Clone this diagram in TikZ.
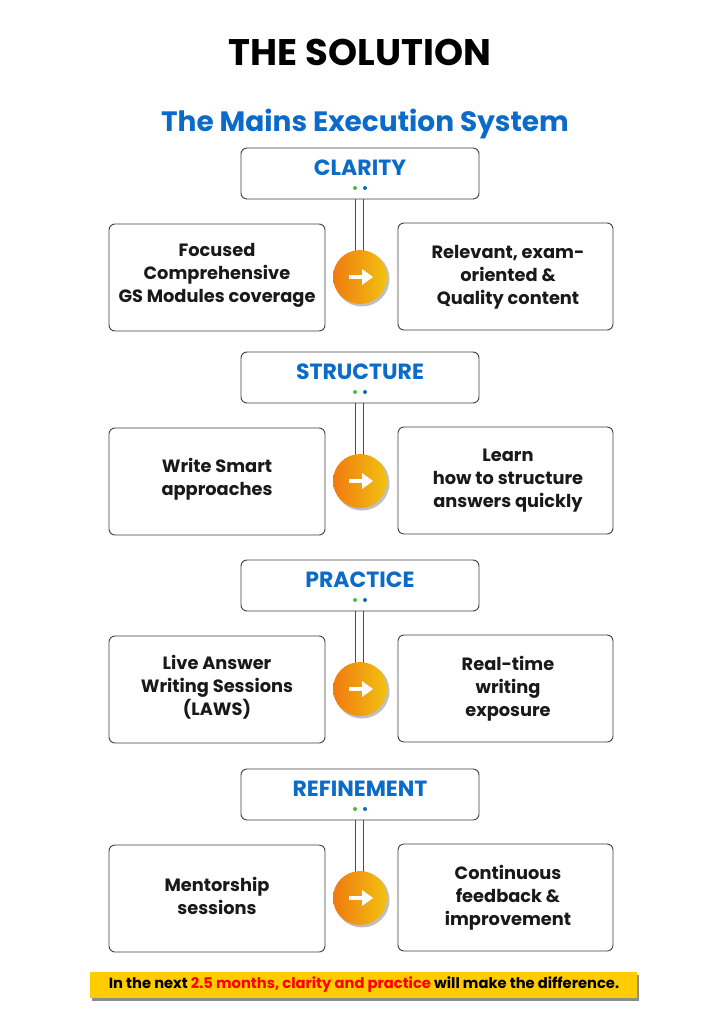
\documentclass[tikz,border=0pt]{standalone}
\usepackage{fontspec}
\setmainfont{Poppins}
\begin{document}
\begin{tikzpicture}[x=1pt,y=-1pt,
 box/.style={draw=black!75,line width=0.9pt,rounded corners=6pt,fill=white},
 btxt/.style={font=\fontsize{17.8}{23}\selectfont\bfseries,align=center,text=black!90},
 htxt/.style={font=\fontsize{22}{24}\selectfont\bfseries,text=blueC},
]
\definecolor{blueC}{HTML}{0B6BC8}
\definecolor{orA}{HTML}{F07A10}
\definecolor{orB}{HTML}{F2C210}
\definecolor{barY}{HTML}{FFCC00}
\useasboundingbox[fill=white] (0,0) rectangle (723,1024);
\node[font=\fontsize{37}{40}\selectfont\bfseries] (title) at (360,52) {THE SOLUTION};
\node[font=\fontsize{28}{30}\selectfont\bfseries,text=blueC] (sub) at (365,124) {The Mains Execution System};
\foreach \o/\h/\la/\ra [count=\i] in {0/CLARITY/{Focused\\Comprehensive\\GS Modules coverage}/{Relevant, exam-\\oriented \&\\Quality content},
 204/STRUCTURE/{Write Smart\\approaches}/{Learn\\how to structure\\answers quickly},
 412/PRACTICE/{Live Answer\\Writing Sessions\\(LAWS)}/{Real-time\\writing\\exposure},
 621/REFINEMENT/{Mentorship\\sessions}/{Continuous\\feedback \&\\improvement}}{
 \draw[box] (241,148+\o) rectangle (479,199+\o);
 \node[htxt] (h\i) at (360,168+\o) {\h};
 \fill[green!60!black!70] (355,188+\o) circle (2);
 \fill[blueC] (365,188+\o) circle (2);
 \coordinate (t\i) at (359,199+\o);
 \draw[box] (109,224+\o) rectangle (325,331+\o);
 \draw[box] (398,223+\o) rectangle (613,330+\o);
 \node[btxt] (l\i) at (217,275+\o) {\la};
 \node[btxt] (r\i) at (508,277+\o) {\ra};
 \draw[black!70,line width=0.9pt] (355,199+\o) -- (355,262+\o) (363,199+\o) -- (363,262+\o);
 \fill[black!25] (362,279+\o) circle (27.5);
 \shade[left color=orA,right color=orB,draw=none] (360,277+\o) circle (27);
 \node[circle,minimum size=54pt,inner sep=0] (c\i) at (360,277+\o) {};
 \draw[white,line width=3.2pt] (349,277+\o) -- (364,277+\o);
 \fill[white] (362,269+\o) -- (373,277+\o) -- (362,285+\o) -- cycle;
}
\fill[black!45] (92,975) rectangle (639,1001);
\fill[barY] (90,972) rectangle (637,998);
\node[font=\fontsize{14.7}{16}\selectfont\bfseries] (foot) at (364,985) {In the next \textcolor{red}{2.5 months, clarity and practice} will make the difference.};
\end{tikzpicture}
\end{document}
